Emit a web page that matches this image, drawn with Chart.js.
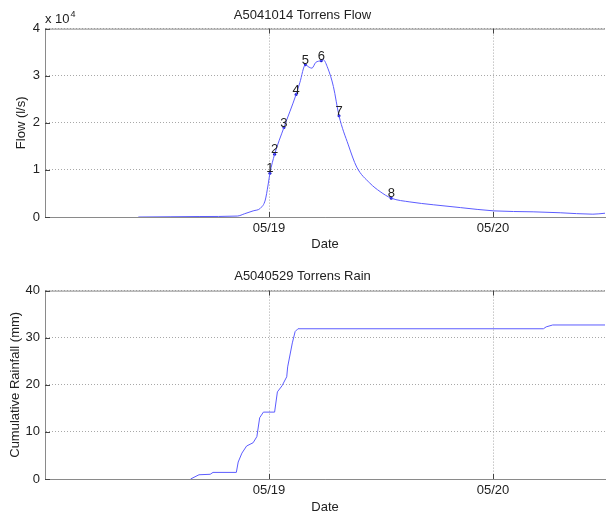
<!DOCTYPE html>
<html>
<head>
<meta charset="utf-8">
<script src="https://cdn.jsdelivr.net/npm/chart.js@4/dist/chart.umd.min.js"></script>
<style>
  html, body { margin: 0; padding: 0; background: #fff; overflow: hidden; }
  #wrap { position: relative; width: 606px; height: 513px; overflow: hidden; }
  canvas { position: absolute; left: 0; }
  #flowChart { top: 0; }
  #rainChart { top: 256px; }
</style>
</head>
<body>
<div id="wrap">
  <canvas id="flowChart" width="606" height="256"></canvas>
  <canvas id="rainChart" width="606" height="262"></canvas>
</div>
<script>
// === Data (hours since 05/18 00:00) ===
const tickHours = [24, 48];
const tickLabels = ["05/19", "05/20"];

const flowHours = [10.0, 13.4, 16.6, 20.6, 21.4, 22.3, 23.1, 23.6, 23.9, 24.1, 24.6, 25.6, 26.9, 27.3, 27.9, 28.3, 28.6, 29.0, 29.6, 29.8,
                   30.3, 30.9, 31.5, 32.5, 33.4, 34.8, 35.9, 37.1, 39.1, 41.6, 44.5, 48.1, 52.3, 55.2, 58.7, 60.0];
const flowValues = [0, 50, 100, 200, 700, 1300, 1900, 3600, 6800, 9300, 13300, 19000, 26000, 28500, 32300, 31800, 31600, 32800, 33200, 33400,
                    31600, 27700, 21500, 15300, 10600, 7200, 5400, 4000, 3200, 2600, 2000, 1300, 1100, 900, 600, 800];
const flowTicks = [0, 1, 2, 3, 4];   // x 10^4
const markerIndex = [9, 10, 11, 12, 14, 18, 22, 27];
const markerLabels = ["1", "2", "3", "4", "5", "6", "7", "8"];

const rainHours = [15.6, 16.5, 17.7, 18.0, 20.5, 20.7, 21.1, 21.6, 22.3, 22.7, 23.0, 23.4, 24.6, 24.9, 25.4, 25.9, 26.0, 26.5, 26.8, 27.1,
                   53.4, 53.7, 54.4, 60.0];
const rainValues = [0, 0.9, 1.0, 1.4, 1.4, 3.6, 5.5, 7.0, 7.7, 9.0, 13.0, 14.2, 14.2, 18.5, 19.8, 21.7, 23.8, 28.9, 31.3, 31.9,
                    31.9, 32.3, 32.7, 32.7];
const rainTicks = [0, 10, 20, 30, 40];

const FONT = "'Liberation Sans', Arial, Helvetica, sans-serif";
const LINE = "#5c5cff";
const AXIS = "#8a8a8a";
const TEXT = "#222";

// === Decorations: top border, inward ticks, point labels, exponent ===
const decoPlugin = {
    id: "deco",
    afterDraw(chart, args, opts) {
        const ctx = chart.ctx;
        const a = chart.chartArea;
        const xs = chart.scales.x, ys = chart.scales.y;
        ctx.save();
        ctx.strokeStyle = AXIS;
        ctx.lineWidth = 1;
        ctx.beginPath();
        ctx.moveTo(a.left, a.top + 0.5);
        ctx.lineTo(a.right, a.top + 0.5);
        ctx.stroke();

        ctx.strokeStyle = "#444";
        ctx.beginPath();
        xs.ticks.forEach(t => {
            const px = Math.round(xs.getPixelForValue(t.value)) + 0.5;
            ctx.moveTo(px, a.bottom); ctx.lineTo(px, a.bottom - 5);
            ctx.moveTo(px, a.top); ctx.lineTo(px, a.top + 5);
        });
        ys.ticks.forEach(t => {
            const py = Math.round(ys.getPixelForValue(t.value)) + 0.5;
            ctx.moveTo(a.left, py); ctx.lineTo(a.left + 5, py);
        });
        ctx.stroke();

        ctx.fillStyle = TEXT;
        ctx.font = "13px " + FONT;
        if (opts.labels) {
            ctx.textAlign = "center";
            ctx.textBaseline = "bottom";
            opts.labels.idx.forEach((i, k) => {
                const px = xs.getPixelForValue(opts.labels.x[i]);
                const py = ys.getPixelForValue(opts.labels.y[i]);
                ctx.fillText(opts.labels.text[k], px, py + 2);
            });
        }
        if (opts.exponent) {
            ctx.textAlign = "left";
            ctx.textBaseline = "alphabetic";
            ctx.fillText("x 10", a.left, a.top - 6);
            const w = ctx.measureText("x 10").width;
            ctx.font = "9px " + FONT;
            ctx.fillText(opts.exponent, a.left + w + 1, a.top - 12);
        }
        ctx.restore();
    }
};

function makeOptions(titleText, yTitle, yTicks, yScale, titlePad, xPadBottom, yTitlePad, deco) {
    return {
        responsive: false,
        animation: false,
        layout: { autoPadding: false, padding: { left: 0, right: 1, top: 0, bottom: 0 } },
        plugins: {
            legend: { display: false },
            tooltip: { enabled: false },
            title: {
                display: true,
                text: titleText,
                color: TEXT,
                font: { family: FONT, size: 13, weight: "normal" },
                padding: titlePad
            },
            deco: deco
        },
        scales: {
            x: {
                type: "linear",
                min: 0,
                max: 60,
                afterFit: s => { s.height = 39; },
                afterBuildTicks: s => { s.ticks = tickHours.map(v => ({ value: v })); },
                ticks: {
                    color: TEXT,
                    font: { family: FONT, size: 13 },
                    padding: 4,
                    maxRotation: 0,
                    callback: v => tickLabels[tickHours.indexOf(v)]
                },
                grid: { color: "#a8a8a8", drawTicks: false, tickLength: 0 },
                border: { display: true, color: AXIS, dash: [1, 2] },
                title: { display: true, text: "Date", color: TEXT, font: { family: FONT, size: 13 }, padding: { top: 0, bottom: xPadBottom } }
            },
            y: {
                type: "linear",
                min: yTicks[0] * yScale,
                max: yTicks[yTicks.length - 1] * yScale,
                afterFit: s => { s.width = 45; },
                afterBuildTicks: s => { s.ticks = yTicks.map(v => ({ value: v * yScale })); },
                ticks: {
                    color: TEXT,
                    font: { family: FONT, size: 13 },
                    padding: 5,
                    callback: v => String(v / yScale)
                },
                grid: { color: "#a8a8a8", drawTicks: false, tickLength: 0 },
                border: { display: true, color: AXIS, dash: [1, 2] },
                title: { display: true, text: yTitle, color: TEXT, font: { family: FONT, size: 13 }, padding: { top: yTitlePad, bottom: 0 } }
            }
        }
    };
}

// === Flow chart ===
new Chart(document.getElementById("flowChart"), {
    type: "line",
    data: {
        datasets: [{
            data: flowHours.map((h, i) => ({ x: h, y: flowValues[i] })),
            borderColor: LINE,
            borderWidth: 1,
            pointRadius: 0,
            pointHoverRadius: 0,
            cubicInterpolationMode: "monotone"
        }, {
            data: markerIndex.map(i => ({ x: flowHours[i], y: flowValues[i] })),
            showLine: false,
            pointRadius: 1.5,
            pointHoverRadius: 0,
            pointBackgroundColor: "#1a1acc",
            pointBorderWidth: 0
        }]
    },
    options: makeOptions("A5041014 Torrens Flow", "Flow (l/s)", flowTicks, 10000, { top: 8, bottom: 5 }, 4, 14, {
        labels: { idx: markerIndex, text: markerLabels, x: flowHours, y: flowValues },
        exponent: "4"
    }),
    plugins: [decoPlugin]
});

// === Rain chart ===
new Chart(document.getElementById("rainChart"), {
    type: "line",
    data: {
        datasets: [{
            data: rainHours.map((h, i) => ({ x: h, y: rainValues[i] })),
            borderColor: LINE,
            borderWidth: 1,
            pointRadius: 0,
            pointHoverRadius: 0,
            tension: 0
        }]
    },
    options: makeOptions("A5040529 Torrens Rain", "Cumulative Rainfall (mm)", rainTicks, 1, { top: 13, bottom: 6 }, 3, 8, {}),
    plugins: [decoPlugin]
});
</script>
</body>
</html>
